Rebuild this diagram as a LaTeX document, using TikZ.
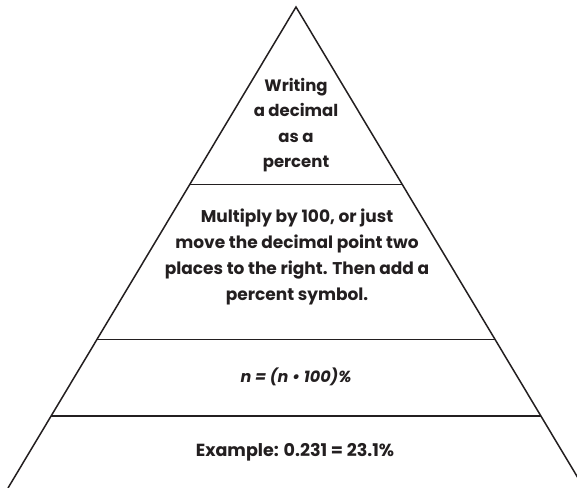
\documentclass[tikz,border=0pt]{standalone}
\usepackage{fontspec}
\setmainfont{Poppins}
\usepackage{tikz}
\usetikzlibrary{calc}

\tikzset{
  tier/.style={draw={rgb,255:red,35;green,31;blue,32}, line width=1.5pt},
  label/.style={align=center, inner sep=0.75pt, text={rgb,255:red,35;green,31;blue,32}}
}

\begin{document}
\begin{tikzpicture}[x=1pt,y=1pt,yscale=-1]
\useasboundingbox (0,0) rectangle (577,487);
\clip (0,0) rectangle (577,487);

% outline of the pyramid
\coordinate (apex) at (296,7);
\coordinate (bl) at (8,488);
\coordinate (br) at (584,488);
\draw [tier] (bl) -- (apex) -- (br);

% tiers
\draw [tier] ($(apex)!0.36875!(bl)$) -- ($(apex)!0.36875!(br)$);
\draw [tier] ($(apex)!0.69167!(bl)$) -- ($(apex)!0.69167!(br)$);
\draw [tier] ($(apex)!0.85!(bl)$) -- ($(apex)!0.85!(br)$);

% Text Node
\node (title) at (296,125) [label, font=\fontsize{16.5}{25.3}\selectfont\bfseries] {Writing\\a decimal\\as a\\percent};
% Text Node
\node (rule) at (297,257) [label, font=\fontsize{17}{25.8}\selectfont\bfseries] {Multiply by 100, or just\\move the decimal point two\\places to the right. Then add a\\percent symbol.};
% Text Node
\node (formula) at (296,377) [label, font=\fontsize{16}{18}\selectfont\bfseries\itshape] {n = (n \textbullet{} 100)\%};
% Text Node
\node (example) at (295,452) [label, font=\fontsize{17.5}{18}\selectfont\bfseries] {Example: 0.231 = 23.1\%};

\end{tikzpicture}
\end{document}
